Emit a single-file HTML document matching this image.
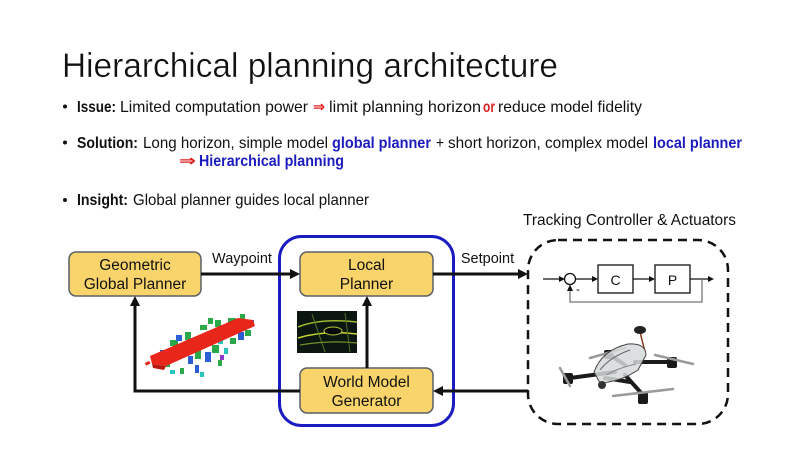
<!DOCTYPE html>
<html><head><meta charset="utf-8"><style>
html,body{margin:0;padding:0;background:#fff;}
svg{display:block;}
text{font-family:"Liberation Sans","DejaVu Sans",sans-serif;}
</style></head><body>
<svg width="800" height="450" viewBox="0 0 800 450" xmlns="http://www.w3.org/2000/svg">
<rect width="800" height="450" fill="#fff"/>
<!-- Title -->
<text x="62" y="77" font-size="34" textLength="496" lengthAdjust="spacingAndGlyphs" fill="#111" stroke="#fff" stroke-width="0.35">Hierarchical planning architecture</text>

<!-- Bullets -->
<g fill="#111">
<circle cx="65" cy="106.5" r="2"/>
<circle cx="65" cy="142.5" r="2"/>
<circle cx="65" cy="200" r="2"/>
</g>
<g font-size="16" fill="#111">
<text x="77" y="112" font-weight="bold" textLength="39" lengthAdjust="spacingAndGlyphs">Issue:</text>
<text x="120" y="112" textLength="188" lengthAdjust="spacingAndGlyphs">Limited computation power</text>
<text x="313" y="112" fill="#e01b1b" font-weight="bold" textLength="12" lengthAdjust="spacingAndGlyphs">⇒</text>
<text x="329" y="112" textLength="152" lengthAdjust="spacingAndGlyphs">limit planning horizon</text>
<text x="483" y="112" fill="#d81e1e" font-weight="bold" textLength="12" lengthAdjust="spacingAndGlyphs">or</text>
<text x="498" y="112" textLength="144" lengthAdjust="spacingAndGlyphs">reduce model fidelity</text>

<text x="77" y="148" font-weight="bold" textLength="61" lengthAdjust="spacingAndGlyphs">Solution:</text>
<text x="143" y="148" textLength="185" lengthAdjust="spacingAndGlyphs">Long horizon, simple model</text>
<text x="332" y="148" fill="#1c1cbe" font-weight="bold" textLength="99" lengthAdjust="spacingAndGlyphs">global planner</text>
<text x="436" y="148" textLength="8" lengthAdjust="spacingAndGlyphs">+</text>
<text x="448" y="148" textLength="200" lengthAdjust="spacingAndGlyphs">short horizon, complex model</text>
<text x="653" y="148" fill="#1c1cbe" font-weight="bold" textLength="89" lengthAdjust="spacingAndGlyphs">local planner</text>
<text x="179" y="166" fill="#e01b1b" font-weight="bold" textLength="17" lengthAdjust="spacingAndGlyphs">⇒</text>
<text x="199" y="166" fill="#1c1cbe" font-weight="bold" textLength="145" lengthAdjust="spacingAndGlyphs">Hierarchical planning</text>

<text x="77" y="205" font-weight="bold" textLength="51" lengthAdjust="spacingAndGlyphs">Insight:</text>
<text x="133" y="205" textLength="236" lengthAdjust="spacingAndGlyphs">Global planner guides local planner</text>

<text x="523" y="225" textLength="213" lengthAdjust="spacingAndGlyphs">Tracking Controller &amp; Actuators</text>
</g>

<!-- Blue box -->
<rect x="279.5" y="236.5" width="174" height="189" rx="22" fill="none" stroke="#1b1bc2" stroke-width="3"/>

<!-- Dashed box -->
<rect x="528" y="240" width="200" height="184" rx="30" fill="none" stroke="#111" stroke-width="2.5" stroke-dasharray="9 6"/>

<!-- Yellow boxes -->
<g fill="#f8d46a" stroke="#5a6068" stroke-width="1.5">
<rect x="69" y="252" width="132" height="44" rx="7"/>
<rect x="300" y="252" width="133" height="44" rx="7"/>
<rect x="300" y="368" width="133" height="45" rx="7"/>
</g>
<g font-size="15.5" fill="#111" text-anchor="middle">
<text x="135" y="270">Geometric</text>
<text x="135" y="289">Global Planner</text>
<text x="366.5" y="270">Local</text>
<text x="366.5" y="289">Planner</text>
<text x="366.5" y="387">World Model</text>
<text x="366.5" y="406">Generator</text>
<text x="242" y="263" font-size="14.5">Waypoint</text>
<text x="487.5" y="263" font-size="14.5">Setpoint</text>
</g>

<!-- Connectors -->
<g stroke="#111" stroke-width="3" fill="none">
<line x1="201" y1="274" x2="293" y2="274"/>
<line x1="433" y1="274" x2="521" y2="274"/>
<line x1="367" y1="368" x2="367" y2="303"/>
<polyline points="300,391 135,391 135,303"/>
<line x1="528" y1="391" x2="440" y2="391"/>
</g>
<g fill="#111">
<polygon points="300,274 290,269 290,279"/>
<polygon points="528,274 518,269 518,279"/>
<polygon points="367,296 362,306 372,306"/>
<polygon points="135,296 130,306 140,306"/>
<polygon points="433,391 443,386 443,396"/>
</g>

<!-- Control loop -->
<g stroke="#111" stroke-width="1.3" fill="none">
<line x1="543" y1="279" x2="562" y2="279"/>
<circle cx="570" cy="279" r="5.5" fill="#fff"/>
<line x1="575.5" y1="279" x2="594" y2="279"/>
<rect x="598" y="265" width="35" height="28" fill="#fff"/>
<line x1="633" y1="279" x2="651" y2="279"/>
<rect x="655" y="265" width="35" height="28" fill="#fff"/>
<line x1="690" y1="279" x2="709" y2="279"/>
</g>
<polyline points="702,279 702,302 570,302 570,289" stroke="#777" stroke-width="1.3" fill="none"/>
<g fill="#111">
<polygon points="565,279 559,276 559,282"/>
<polygon points="598,279 592,276 592,282"/>
<polygon points="655,279 649,276 649,282"/>
<polygon points="714,279 708,276 708,282"/>
<polygon points="570,284.5 567,291 573,291"/>
</g>
<text x="615.5" y="285" font-size="14" text-anchor="middle" fill="#111">C</text>
<text x="672.5" y="285" font-size="14" text-anchor="middle" fill="#111">P</text>
<text x="576" y="293" font-size="12" fill="#111">-</text>

<!-- Point cloud image -->
<g>
<g fill="#2aa84a">
<rect x="170" y="340" width="8" height="6"/><rect x="185" y="332" width="6" height="8"/><rect x="200" y="325" width="7" height="5"/>
<rect x="215" y="320" width="6" height="7"/><rect x="228" y="318" width="8" height="5"/><rect x="195" y="350" width="6" height="9"/>
<rect x="212" y="345" width="7" height="8"/><rect x="230" y="338" width="6" height="6"/><rect x="165" y="362" width="5" height="5"/>
<rect x="245" y="330" width="6" height="6"/><rect x="180" y="368" width="4" height="6"/><rect x="240" y="314" width="5" height="5"/>
<rect x="208" y="318" width="5" height="6"/><rect x="218" y="360" width="4" height="6"/>
</g>
<g fill="#2b5fd6">
<rect x="176" y="335" width="6" height="6"/><rect x="205" y="332" width="5" height="6"/><rect x="222" y="328" width="5" height="5"/>
<rect x="188" y="356" width="5" height="8"/><rect x="205" y="352" width="6" height="10"/><rect x="238" y="332" width="6" height="8"/>
<rect x="160" y="350" width="5" height="5"/><rect x="250" y="320" width="4" height="5"/><rect x="195" y="365" width="4" height="8"/>
</g>
<g fill="#27c6c0">
<rect x="190" y="338" width="5" height="5"/><rect x="218" y="338" width="5" height="6"/><rect x="170" y="370" width="5" height="4"/>
<rect x="235" y="320" width="5" height="5"/><rect x="200" y="372" width="4" height="5"/><rect x="224" y="348" width="4" height="6"/>
</g>
<g fill="#e2c21e">
<rect x="183" y="344" width="4" height="4"/><rect x="210" y="330" width="4" height="4"/><rect x="240" y="325" width="4" height="4"/>
</g>
<g fill="#8a3cc8"><rect x="175" y="355" width="4" height="5"/><rect x="220" y="355" width="4" height="5"/></g>
<polygon points="150,356 238,318 253,320 255,326 166,366 152,364" fill="#e8261a"/>
<polygon points="152,364 166,366 164,370 153,368" fill="#b81a10"/>
<rect x="145" y="362" width="5" height="3" fill="#e8261a" transform="rotate(-25 147 363)"/>
</g>

<!-- Lidar image -->
<g>
<rect x="297" y="311" width="60" height="42" fill="#0b1610"/>
<path d="M298,327 Q320,318 357,322" stroke="#9fb82e" stroke-width="1.5" fill="none"/>
<path d="M298,338 Q325,330 357,334" stroke="#c8d436" stroke-width="1.5" fill="none"/>
<path d="M300,345 Q330,340 357,343" stroke="#6f8f2a" stroke-width="1.2" fill="none"/>
<ellipse cx="333" cy="331" rx="9" ry="4" fill="#050807" stroke="#b8c83a" stroke-width="1"/>
<path d="M312,314 L325,352" stroke="#567a28" stroke-width="1" fill="none"/>
<path d="M345,313 L350,352" stroke="#4e6f24" stroke-width="1" fill="none"/>
</g>

<!-- Drone -->
<g>
<line x1="640" y1="332" x2="645" y2="352" stroke="#8a3a1a" stroke-width="1.5"/>
<ellipse cx="640" cy="330" rx="6" ry="4" fill="#222"/>
<g stroke="#1b1b1b" stroke-width="4" stroke-linecap="round">
<line x1="615" y1="372" x2="570" y2="378"/>
<line x1="625" y1="365" x2="610" y2="355"/>
<line x1="635" y1="362" x2="672" y2="362"/>
<line x1="625" y1="375" x2="643" y2="395"/>
<line x1="605" y1="378" x2="630" y2="382"/>
</g>
<g fill="#1a1a1a">
<rect x="563" y="373" width="10" height="11" rx="2"/>
<rect x="604" y="350" width="9" height="9" rx="2"/>
<rect x="667" y="357" width="10" height="11" rx="2"/>
<rect x="638" y="392" width="10" height="12" rx="2"/>
</g>
<g stroke="#9a9a9a" stroke-width="2.5" stroke-linecap="round">
<line x1="560" y1="368" x2="570" y2="386"/>
<line x1="590" y1="358" x2="625" y2="348"/>
<line x1="655" y1="355" x2="693" y2="364"/>
<line x1="613" y1="396" x2="673" y2="389"/>
</g>
<path d="M594,372 Q602,350 628,344 Q646,343 646,355 L638,370 Q620,382 600,383 Z" fill="#d6d9db" fill-opacity="0.85" stroke="#444" stroke-width="1"/>
<path d="M600,370 Q610,357 630,350" stroke="#666" stroke-width="1" fill="none"/>
<path d="M606,375 Q618,368 636,364" stroke="#888" stroke-width="1" fill="none"/>
<circle cx="602" cy="385" r="4" fill="#333"/>
</g>
</svg>
</body></html>
